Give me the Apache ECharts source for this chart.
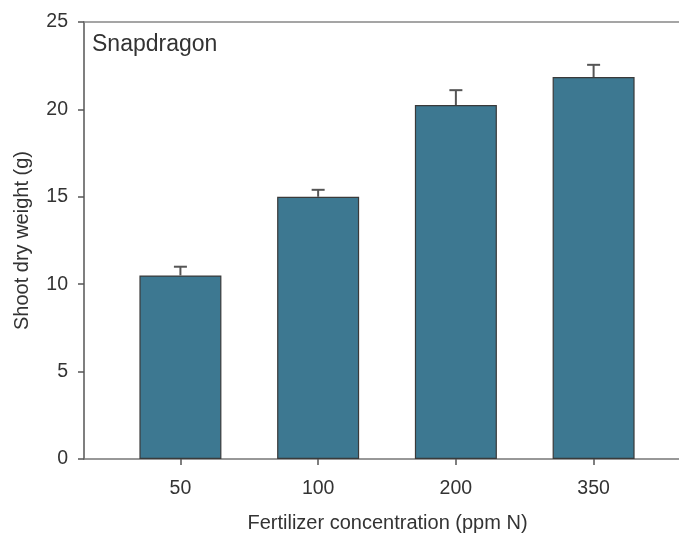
<!DOCTYPE html>
<html>
<head>
<meta charset="utf-8">
<script src="https://cdn.jsdelivr.net/npm/echarts@6/dist/echarts.min.js"></script>
<style>html,body{margin:0;padding:0;background:#fff}#c{width:679px;height:536px}</style>
</head>
<body>
<div id="c"></div>
<script>
const categories = ['50', '100', '200', '350'];
const means = [10.5, 15.0, 20.25, 21.85];
const errors = [0.5, 0.4, 0.85, 0.7];
const yTicks = [0, 5, 10, 15, 20, 25];

const positions = categories.map((c, i) => i);
const barData = means.map((m, i) => [positions[i], m]);
const errData = means.map((m, i) => [positions[i], m, errors[i]]);
const FONT = 'Liberation Sans, Arial, sans-serif';

const chart = echarts.init(document.getElementById('c'));
chart.setOption({
  animation: false,
  backgroundColor: '#fff',
  title: {
    text: 'Snapdragon', left: 87, top: 28,
    textStyle: { fontFamily: FONT, fontSize: 23, fontWeight: 'normal', color: '#333' }
  },
  grid: { left: 84, right: 0, top: 22, bottom: 77, outerBoundsMode: 'none', containLabel: false },
  xAxis: [{
    type: 'value', min: -0.7, max: 3.62,
    name: 'Fertilizer concentration (ppm N)', nameLocation: 'middle', nameGap: 54,
    nameTextStyle: { fontFamily: FONT, fontSize: 20, color: '#333', padding: [0, 0, 0, 12] },
    axisLine: { show: true, onZero: false, lineStyle: { color: '#777', width: 1.5 } },
    axisTick: { show: true, length: 6, customValues: positions, lineStyle: { color: '#555', width: 1.5 } },
    axisLabel: { customValues: positions, margin: 20, fontFamily: FONT, fontSize: 19.5, color: '#333',
      formatter: v => categories[Math.round(v)] },
    splitLine: { show: false }
  }, {
    type: 'value', position: 'top', min: -0.7, max: 3.62,
    axisLine: { show: true, onZero: false, lineStyle: { color: '#888', width: 1.5 } },
    axisTick: { show: false }, axisLabel: { show: false }, splitLine: { show: false }
  }],
  yAxis: {
    type: 'value', min: 0, max: 25, interval: 5,
    name: 'Shoot dry weight (g)', nameLocation: 'middle', nameGap: 52,
    nameTextStyle: { fontFamily: FONT, fontSize: 20, color: '#333' },
    axisLine: { show: true, onZero: false, lineStyle: { color: '#555', width: 1.5 } },
    axisTick: { show: true, length: 6, lineStyle: { color: '#555', width: 1.5 } },
    axisLabel: { margin: 16, fontFamily: FONT, fontSize: 19.5, color: '#333',
      customValues: yTicks },
    splitLine: { show: false }
  },
  series: [{
    type: 'bar', data: barData, barWidth: 82, z: 2,
    itemStyle: { color: '#3d7891', borderColor: '#3a3a3a', borderWidth: 1.2 }
  }, {
    type: 'custom', z: 3, data: errData,
    renderItem: function (params, api) {
      const x = api.value(0), y = api.value(1), e = api.value(2);
      const p0 = api.coord([x, y]);
      const p1 = api.coord([x, y + e]);
      const style = { stroke: '#555', lineWidth: 2 };
      return {
        type: 'group',
        children: [
          { type: 'line', shape: { x1: p0[0], y1: p0[1], x2: p1[0], y2: p1[1] }, style: style },
          { type: 'line', shape: { x1: p1[0] - 6.5, y1: p1[1], x2: p1[0] + 6.5, y2: p1[1] }, style: style }
        ]
      };
    }
  }]
});
</script>
</body>
</html>
